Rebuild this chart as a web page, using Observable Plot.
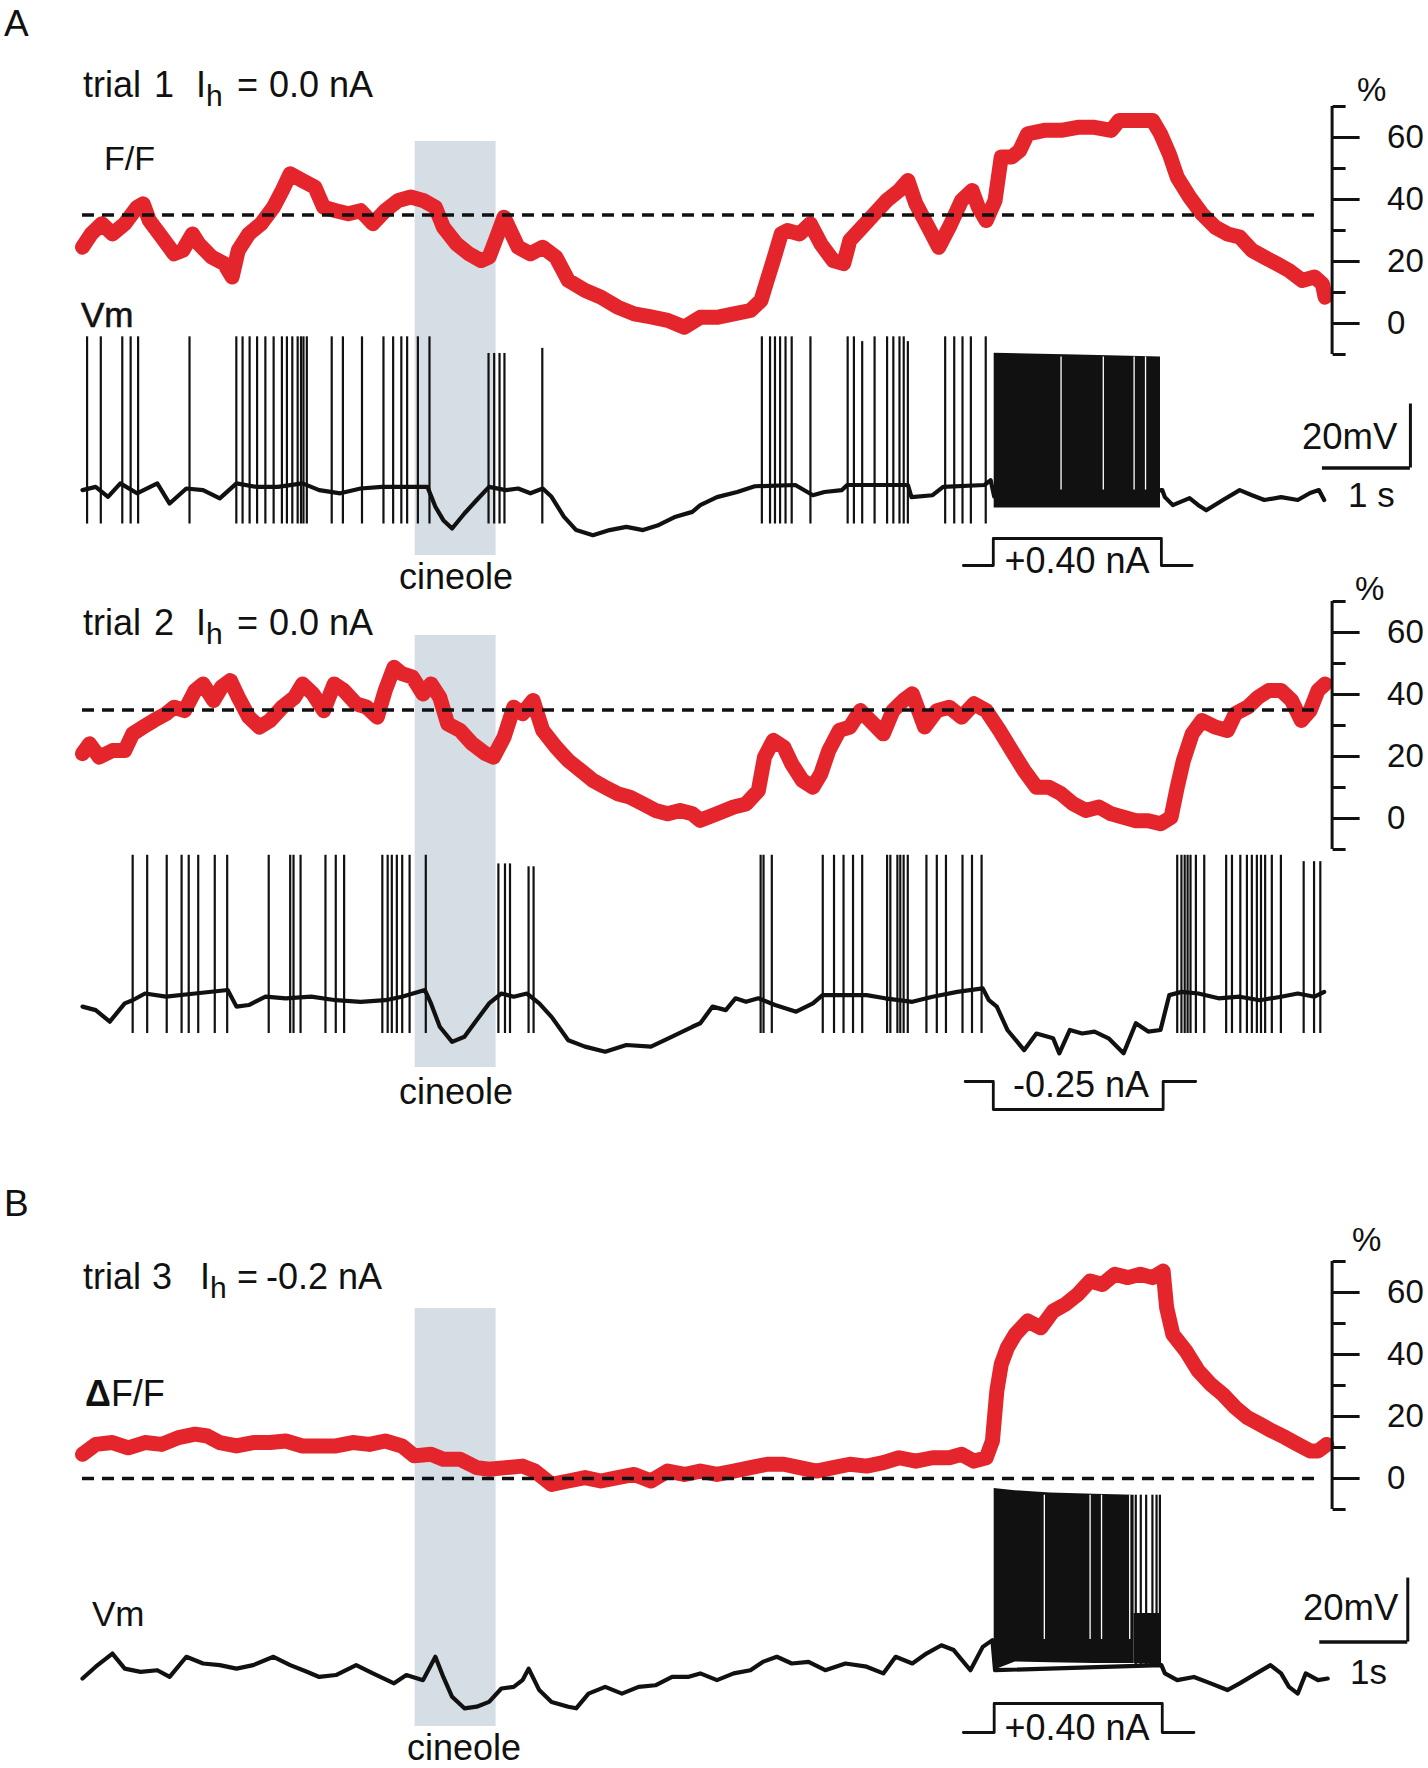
<!DOCTYPE html>
<html><head><meta charset="utf-8">
<script src="https://cdn.jsdelivr.net/npm/d3@7"></script>
<script src="https://cdn.jsdelivr.net/npm/@observablehq/plot@0.6"></script>
<style>
body{margin:0;background:#fff;}
#fig{position:relative;width:1428px;height:1768px;overflow:hidden;background:#fff;}
</style></head><body><div id="fig"></div>
<script>
// ---------- data (time in s, fluorescence in % ΔF/F, Vm in mV, current in nA) ----------
const cineole = [3.78, 4.70];
const dashLevel = [35, 35, 0];
const pctMajor = [0, 20, 40, 60];
const pctMinor = [-10, 10, 30, 50, 70];

const f1 = [[0.00,24.6],[0.10,28.9],[0.22,32.2],[0.34,28.9],[0.48,32.2],[0.62,37.5],[0.69,38.6],[0.76,33.2],[0.90,27.9],[1.04,22.5],[1.14,23.6],[1.25,28.9],[1.32,25.7],[1.47,21.4],[1.61,19.3],[1.70,15.0],[1.77,23.6],[1.89,28.9],[2.03,32.2],[2.17,37.5],[2.27,42.9],[2.36,48.3],[2.50,46.1],[2.64,44.0],[2.74,37.5],[2.88,36.4],[3.02,35.4],[3.16,36.4],[3.30,32.2],[3.44,36.4],[3.59,39.7],[3.73,40.8],[3.87,39.7],[4.01,37.5],[4.10,31.1],[4.25,25.7],[4.39,22.5],[4.53,20.3],[4.62,21.4],[4.72,28.9],[4.79,34.3],[4.86,30.0],[4.95,24.6],[5.09,22.5],[5.23,24.6],[5.38,21.4],[5.52,13.9],[5.71,10.7],[5.89,8.5],[6.08,5.3],[6.27,3.1],[6.46,2.1],[6.65,1.0],[6.84,-1.2],[7.02,2.0],[7.21,2.0],[7.40,3.1],[7.59,4.2],[7.71,7.4],[7.78,13.9],[7.85,20.3],[7.94,28.9],[8.01,30.0],[8.15,28.9],[8.27,32.2],[8.39,25.7],[8.53,20.3],[8.65,19.3],[8.72,26.8],[8.86,31.1],[9.00,35.4],[9.14,39.7],[9.28,42.9],[9.38,46.1],[9.47,38.6],[9.61,31.1],[9.73,24.6],[9.85,31.1],[9.99,39.7],[10.11,42.9],[10.18,37.5],[10.27,33.2],[10.37,39.7],[10.44,53.7],[10.56,53.7],[10.65,55.8],[10.74,61.2],[10.93,62.3],[11.12,62.3],[11.31,63.3],[11.50,63.3],[11.69,62.3],[11.78,65.5],[11.97,65.5],[12.16,65.5],[12.25,61.2],[12.35,54.7],[12.44,47.2],[12.58,40.8],[12.72,35.4],[12.87,31.1],[13.01,28.9],[13.15,27.9],[13.29,23.6],[13.43,21.4],[13.57,19.3],[13.71,17.1],[13.86,13.9],[14.00,15.0],[14.09,12.8],[14.12,8.5]];

const f2 = [[0.00,20.9],[0.08,24.1],[0.19,19.8],[0.34,21.9],[0.48,21.9],[0.57,27.3],[0.69,29.5],[0.81,31.6],[0.95,33.8],[1.04,35.9],[1.16,34.8],[1.28,41.3],[1.37,43.4],[1.49,38.1],[1.58,42.4],[1.68,44.5],[1.77,39.1],[1.89,32.7],[2.01,29.5],[2.13,31.6],[2.27,35.9],[2.41,39.1],[2.50,43.4],[2.62,40.2],[2.74,34.8],[2.86,43.4],[2.97,41.3],[3.11,37.0],[3.23,35.9],[3.35,32.7],[3.44,41.3],[3.54,48.8],[3.63,46.7],[3.75,45.6],[3.87,40.2],[3.96,43.4],[4.06,39.1],[4.15,30.5],[4.29,28.4],[4.43,24.1],[4.58,20.9],[4.67,19.8],[4.79,26.2],[4.90,35.9],[5.00,33.8],[5.12,38.1],[5.23,28.4],[5.38,23.0],[5.52,18.7],[5.66,15.5],[5.80,12.3],[5.94,10.1],[6.08,8.0],[6.22,6.9],[6.37,4.7],[6.51,2.6],[6.65,1.5],[6.79,2.6],[6.93,1.5],[7.02,-0.6],[7.21,1.5],[7.40,3.7],[7.54,4.7],[7.68,9.0],[7.75,19.8],[7.85,25.2],[7.97,23.0],[8.06,17.6],[8.18,12.3],[8.30,10.1],[8.39,14.4],[8.48,21.9],[8.60,28.4],[8.72,29.5],[8.84,34.8],[8.95,31.6],[9.10,27.3],[9.21,34.8],[9.33,38.1],[9.43,40.2],[9.57,29.5],[9.71,34.8],[9.85,35.9],[9.99,32.7],[10.13,37.0],[10.27,34.8],[10.42,28.4],[10.56,21.9],[10.70,15.5],[10.84,10.1],[10.98,10.1],[11.12,8.0],[11.26,4.7],[11.40,2.6],[11.55,3.7],[11.69,1.5],[11.83,0.4],[11.97,-0.7],[12.11,-0.7],[12.25,-1.7],[12.37,0.4],[12.44,10.1],[12.51,18.7],[12.61,27.3],[12.72,31.6],[12.87,29.5],[13.01,28.4],[13.10,33.8],[13.24,35.9],[13.36,39.1],[13.48,41.3],[13.62,41.3],[13.74,38.1],[13.85,31.6],[13.95,34.8],[14.04,41.3],[14.12,43.4]];

const f3 = [[0.00,7.8],[0.15,11.0],[0.34,11.6],[0.52,9.9],[0.71,11.6],[0.90,11.0],[1.09,13.2],[1.28,14.3],[1.42,13.7],[1.56,11.6],[1.75,10.5],[1.94,11.6],[2.13,11.6],[2.31,12.1],[2.50,10.5],[2.69,10.5],[2.88,10.5],[3.07,11.6],[3.26,11.0],[3.44,12.1],[3.63,10.5],[3.77,7.3],[3.96,7.8],[4.10,6.2],[4.29,6.2],[4.48,3.5],[4.62,3.0],[4.81,3.5],[5.00,4.0],[5.14,2.4],[5.33,-1.9],[5.52,-0.8],[5.71,0.3],[5.89,-0.8],[6.08,0.3],[6.27,1.3],[6.46,-0.8],[6.65,2.4],[6.84,1.3],[7.02,2.4],[7.21,1.3],[7.40,2.4],[7.59,3.5],[7.78,4.6],[7.97,4.6],[8.15,3.5],[8.34,2.4],[8.53,3.5],[8.72,4.6],[8.91,4.0],[9.10,5.1],[9.28,6.7],[9.47,5.6],[9.66,6.7],[9.85,6.7],[9.99,7.8],[10.13,5.6],[10.27,6.7],[10.34,12.1],[10.39,28.2],[10.44,36.8],[10.51,42.2],[10.60,46.5],[10.74,50.8],[10.89,48.6],[11.03,54.0],[11.17,56.2],[11.31,59.4],[11.45,63.7],[11.59,62.6],[11.73,65.9],[11.88,64.8],[12.02,65.9],[12.16,64.8],[12.28,66.9],[12.32,55.1],[12.39,46.5],[12.54,41.1],[12.68,34.7],[12.82,30.4],[12.96,27.1],[13.10,22.9],[13.24,19.6],[13.38,17.5],[13.52,15.3],[13.67,13.2],[13.81,11.0],[13.95,8.9],[14.04,8.9],[14.14,11.0]];

// subthreshold membrane potential
const vm1 = [[0.00,-58],[0.15,-57],[0.29,-60.1],[0.43,-55.9],[0.62,-59],[0.85,-55.9],[0.99,-62.2],[1.18,-57.5],[1.37,-58],[1.56,-60.6],[1.75,-55.9],[1.98,-57],[2.22,-57],[2.50,-55.9],[2.69,-58],[2.93,-59],[3.16,-57.5],[3.40,-57],[3.63,-57],[3.92,-57],[4.01,-63.2],[4.10,-67.4],[4.20,-70],[4.34,-65.3],[4.48,-61.1],[4.62,-57],[4.81,-58],[4.95,-57.5],[5.09,-59],[5.23,-57.5],[5.33,-60.1],[5.47,-66.3],[5.61,-70.5],[5.80,-72.1],[5.99,-70.5],[6.18,-69.5],[6.37,-70.5],[6.55,-68.9],[6.74,-66.3],[6.93,-64.8],[7.02,-62.7],[7.21,-60.2],[7.44,-58.6],[7.64,-56.8],[8.10,-56.4],[8.30,-59.6],[8.43,-58.6],[8.63,-58],[8.69,-56.4],[9.38,-56.4],[9.42,-60.2],[9.66,-59.6],[9.78,-57],[10.25,-56.4],[10.32,-54.9],[10.36,-60],[12.27,-58],[12.30,-60.2],[12.39,-62.7],[12.58,-60.5],[12.68,-62.7],[12.77,-64.3],[12.96,-61.1],[13.15,-58],[13.29,-59.6],[13.43,-61.1],[13.62,-60.2],[13.81,-61.1],[13.95,-58.9],[14.05,-58],[14.11,-61.1]];
const vm2 = [[0.00,-59.1],[0.15,-60.2],[0.31,-63.8],[0.48,-58.1],[0.57,-57.1],[0.71,-55],[0.95,-56],[1.28,-55],[1.65,-53.9],[1.75,-59.1],[1.89,-58.6],[2.08,-56],[2.31,-56.5],[2.60,-56],[2.88,-57.1],[3.16,-57.6],[3.44,-57.1],[3.63,-56],[3.89,-53.9],[3.96,-58.1],[4.06,-65.4],[4.20,-70.1],[4.34,-68.5],[4.48,-63.3],[4.62,-58.1],[4.76,-55],[4.90,-56],[5.05,-55],[5.19,-58.1],[5.33,-62.3],[5.52,-69.6],[5.71,-71.6],[5.94,-73.2],[6.18,-71.1],[6.46,-71.6],[6.70,-68.5],[6.93,-65.4],[7.02,-64.3],[7.16,-59.1],[7.31,-60.2],[7.42,-56.5],[7.54,-57.6],[7.68,-56.5],[7.87,-58.6],[8.11,-60.7],[8.30,-58.1],[8.41,-55.5],[8.67,-55.5],[8.91,-55.5],[9.12,-56.5],[9.43,-57.6],[9.66,-56],[9.94,-54.5],[10.23,-53.4],[10.30,-57.1],[10.39,-59.1],[10.51,-66.4],[10.70,-72.7],[10.84,-67.5],[11.03,-69],[11.10,-73.7],[11.22,-66.4],[11.36,-67.5],[11.50,-66.9],[11.66,-69],[11.83,-73.7],[11.97,-64.3],[12.11,-66.9],[12.25,-66.4],[12.35,-55.5],[12.49,-54.5],[12.68,-55],[12.91,-56.5],[13.15,-56],[13.38,-57.1],[13.62,-56],[13.81,-55],[14.00,-56],[14.11,-54.5]];
const vm3 = [[0.00,-62.2],[0.15,-58.5],[0.34,-54.4],[0.48,-59.1],[0.66,-60.1],[0.85,-59.6],[0.99,-61.7],[1.18,-55.4],[1.37,-57.5],[1.56,-58],[1.75,-59.1],[1.94,-58],[2.17,-55.4],[2.36,-58],[2.55,-60.1],[2.69,-61.7],[2.88,-61.1],[3.11,-58],[3.30,-60.6],[3.54,-63.7],[3.68,-61.1],[3.87,-62.7],[4.01,-55.4],[4.10,-61.7],[4.20,-67.9],[4.34,-71.5],[4.48,-71],[4.62,-69.5],[4.76,-65.3],[4.90,-64.8],[5.00,-62.7],[5.07,-59.1],[5.19,-65.8],[5.33,-69.5],[5.52,-71],[5.61,-71.5],[5.75,-66.9],[5.94,-64.8],[6.13,-66.9],[6.32,-64.8],[6.51,-64.3],[6.70,-61.7],[6.88,-61.7],[7.02,-60.6],[7.21,-62.7],[7.40,-60.6],[7.59,-59.6],[7.73,-57],[7.89,-55.4],[8.06,-57.5],[8.25,-57],[8.44,-59.6],[8.67,-57.5],[8.91,-58.5],[9.10,-60.6],[9.24,-55.4],[9.43,-57.5],[9.59,-54.4],[9.76,-51.8],[9.90,-53.3],[10.09,-59.6],[10.23,-52.3],[10.34,-50.2],[10.37,-59.6],[12.26,-58],[12.30,-60.6],[12.44,-62.7],[12.63,-61.7],[12.82,-63.7],[13.01,-65.8],[13.15,-63.7],[13.34,-60.6],[13.50,-58],[13.62,-60.6],[13.71,-64.8],[13.81,-66.9],[13.90,-60.6],[14.04,-62.7],[14.15,-62.2]];

// action potentials: [time, peak mV]; trough (AHP) per trial
const spikes1 = [[0.052,-10.1],[0.208,-10.1],[0.452,-10.1],[0.547,-10.1],[0.632,-10.1],[1.216,-10.1],[1.748,-10.1],[1.819,-10.1],[1.899,-10.1],[1.984,-10.1],[2.078,-10.1],[2.172,-10.1],[2.266,-10.1],[2.323,-10.1],[2.384,-10.1],[2.445,-10.1],[2.483,-10.1],[2.511,-10.1],[2.549,-10.1],[2.832,-10.1],[2.959,-10.1],[3.176,-10.1],[3.420,-10.1],[3.530,-10.1],[3.623,-10.1],[3.689,-10.1],[3.811,-10.1],[3.943,-10.1],[4.614,-15.3],[4.678,-15.3],[4.739,-15.3],[4.795,-15.3],[5.225,-13.7],[7.720,-10.1],[7.813,-10.1],[7.869,-10.1],[7.927,-10.1],[7.989,-10.1],[8.059,-10.1],[8.272,-10.1],[8.695,-10.1],[8.766,-10.1],[8.860,-11.6],[9.001,-10.1],[9.143,-10.1],[9.214,-10.1],[9.284,-10.1],[9.332,-10.1],[9.379,-11.6],[9.803,-10.1],[9.906,-10.1],[10.000,-10.1],[10.095,-10.1],[10.264,-10.1]];
const spikes2 = [[0.570,-11.8],[0.735,-11.8],[0.957,-11.8],[1.126,-11.8],[1.207,-11.8],[1.315,-11.8],[1.503,-11.8],[1.644,-11.8],[2.116,-11.8],[2.360,-11.8],[2.398,-11.8],[2.478,-11.8],[2.761,-11.8],[2.878,-11.8],[2.973,-11.8],[3.407,-11.8],[3.468,-11.8],[3.515,-11.8],[3.572,-11.8],[3.633,-11.8],[3.717,-11.8],[3.901,-11.8],[4.726,-14.5],[4.801,-14.5],[4.858,-14.5],[5.069,-15.4],[5.126,-15.4],[7.706,-11.8],[7.739,-11.8],[7.833,-11.8],[8.412,-11.8],[8.540,-11.8],[8.648,-11.8],[8.756,-11.8],[8.860,-11.8],[9.143,-11.8],[9.180,-11.8],[9.260,-11.8],[9.293,-11.8],[9.331,-11.8],[9.378,-11.8],[9.590,-11.8],[9.708,-11.8],[9.812,-11.8],[10.000,-11.8],[10.108,-11.8],[10.217,-11.8],[12.440,-11.8],[12.488,-11.8],[12.525,-11.8],[12.558,-11.8],[12.591,-11.8],[12.652,-11.8],[12.747,-11.8],[12.996,-11.8],[13.062,-11.8],[13.157,-11.8],[13.232,-11.8],[13.288,-11.8],[13.345,-11.8],[13.392,-11.8],[13.439,-11.8],[13.515,-11.8],[13.618,-11.8],[13.877,-13.8],[13.995,-13.8],[14.066,-13.8]];
const spikes3 = [[11.969,-4.9],[12.026,-4.9],[12.087,-4.9],[12.158,-4.9],[12.205,-4.9],[12.243,-4.9]];
const ahp = [-68.6, -67.5, -58.0];

// high-frequency firing during the current step: [time, lower envelope, upper envelope]
const burst1 = [[10.36,-63.6,-15.2],[11.30,-63.6,-15.8],[12.25,-63.6,-16.4]];
const burst3 = [[10.36,-59.6,-2.8],[10.60,-57.0,-3.5],[11.00,-57.3,-4.2],[11.50,-57.5,-4.6],[11.95,-57.5,-4.9]];
const burst3tail = [[11.95,-57.5,-41.9],[12.26,-58.0,-41.9]];
const gaps1 = [11.12, 11.60, 11.95, 12.08];
const gaps3 = [10.93, 11.45, 11.58, 11.90];

// injected current steps (nA)
const stim1 = [[10.01,0],[10.35,0],[10.35,0.40],[12.26,0.40],[12.26,0],[12.61,0]];
const stim2 = [[10.03,0],[10.35,0],[10.35,-0.25],[12.28,-0.25],[12.28,0],[12.65,0]];
const stim3 = [[10.01,0],[10.36,0],[10.36,0.40],[12.27,0.40],[12.27,0],[12.63,0]];

// scale bars: start time, start mV, 1 s, 20 mV
const bar1 = {t: 14.09, v: -51.1, dt: 1, dv: 20};
const bar3 = {t: 14.06, v: -50.8, dt: 1, dv: 20};

// ---------- layout ----------
const fig = document.getElementById("fig");
const W = 1428, ML = 82, PX = 88, TMAX = 14.2, MR = W - ML - TMAX * PX;
const FONT = '"Liberation Sans", Arial, Helvetica, sans-serif';
const RED = "#e4262c", INK = "#111", SHADE = "#d5dee4";

function place(top, height, opts) {
  const svg = Plot.plot(Object.assign({
    width: W, height, marginLeft: ML, marginRight: MR, marginTop: 0, marginBottom: 0,
    x: {domain: [0, TMAX], axis: null},
    style: {background: "transparent", overflow: "visible", fontFamily: FONT, fontSize: "33px", color: INK}
  }, opts));
  svg.style.position = "absolute"; svg.style.left = "0px"; svg.style.top = top + "px";
  svg.style.maxWidth = "none";
  fig.appendChild(svg);
}
function shade(top, height) {
  place(top, height, {marks: [Plot.rect([cineole], {x1: d => d[0], x2: d => d[1], fill: SHADE})]});
}
function fPanel(top, data, level) {
  place(top, 248, {y: {domain: [-10, 70]}, marks: [
    Plot.line(data, {x: d => d[0], y: d => d[1], stroke: RED, strokeWidth: 15, strokeLinejoin: "round"}),
    Plot.ruleY([level], {x1: 0, x2: 14.02, stroke: INK, strokeWidth: 3.5, strokeDasharray: "12,8"}),
    Plot.ruleX([TMAX], {y1: -10, y2: 70, stroke: INK, strokeWidth: 3}),
    Plot.axisY(pctMajor, {anchor: "right", tickSize: 27, tickPadding: 28, strokeWidth: 3, label: null, fontSize: 33}),
    Plot.axisY(pctMinor, {anchor: "right", tickSize: 13, strokeWidth: 3, label: null, tickFormat: () => ""})
  ]});
}
function vmPanel(top, base, spikes, trough, extra) {
  place(top, 256, {y: {domain: [-80, 0], axis: null}, marks: [
    Plot.line(base, {x: d => d[0], y: d => d[1], stroke: INK, strokeWidth: 4.2, strokeLinejoin: "round"}),
    Plot.ruleX(spikes, {x: d => d[0], y1: trough, y2: d => d[1], stroke: INK, strokeWidth: 2.2}),
    ...extra
  ]});
}
function barMarks(b) {
  return [
    Plot.ruleX([b], {x: d => d.t + d.dt, y1: d => d.v, y2: d => d.v + d.dv, stroke: INK, strokeWidth: 3}),
    Plot.ruleY([b], {y: d => d.v, x1: d => d.t, x2: d => d.t + d.dt, stroke: INK, strokeWidth: 3.4})
  ];
}
function stimPanel(top, height, data, dom) {
  place(top, height, {y: {domain: dom, axis: null}, marks: [
    Plot.line(data, {x: d => d[0], y: d => d[1], stroke: INK, strokeWidth: 2.8})
  ]});
}

// trial 1
shade(141, 414);
fPanel(106, f1, dashLevel[0]);
vmPanel(304.4, vm1, spikes1, ahp[0], [
  Plot.areaY(burst1, {x: d => d[0], y1: d => d[1], y2: d => d[2], fill: INK}),
  Plot.ruleX(gaps1, {x: d => d, y1: -58, y2: -16.4, stroke: "#fff", strokeWidth: 1.3}),
  ...barMarks(bar1)
]);
stimPanel(538, 27, stim1, [0, 0.4]);

// trial 2
shade(635, 432);
fPanel(601, f2, dashLevel[1]);
vmPanel(817.4, vm2, spikes2, ahp[1], []);
stimPanel(1081, 28, stim2, [-0.25, 0]);

// trial 3
shade(1308, 418);
fPanel(1260.5, f3, dashLevel[2]);
vmPanel(1479.4, vm3, spikes3, ahp[2], [
  Plot.areaY(burst3, {x: d => d[0], y1: d => d[1], y2: d => d[2], fill: INK}),
  Plot.areaY(burst3tail, {x: d => d[0], y1: d => d[1], y2: d => d[2], fill: INK}),
  Plot.ruleX(gaps3, {x: d => d, y1: -50, y2: -4.9, stroke: "#fff", strokeWidth: 1.3}),
  ...barMarks(bar3)
]);
stimPanel(1703, 29, stim3, [0, 0.4]);

// ---------- text ----------
const ih = (y, n, nx, I, eq, cx, cur) => `<text y="${y}" font-size="36"><tspan x="83">trial</tspan><tspan x="${nx}">${n}</tspan><tspan x="${I}">I</tspan><tspan font-size="30" dy="9">h</tspan><tspan dy="-9" x="${eq}">=</tspan><tspan x="${cx}">${cur}</tspan></text>`;
const labels = `
<svg xmlns="http://www.w3.org/2000/svg" width="1428" height="1768" style="position:absolute;left:0;top:0;overflow:visible" font-family='${FONT}' fill="${INK}">
<text x="4" y="36" font-size="37">A</text>
${ih(97, "1", 154, 196, 237, 269, "0.0 nA")}
<text x="104" y="170" font-size="34">F/F</text>
<text x="1357" y="101" font-size="33">%</text>
<text x="81" y="327" font-size="35" stroke="${INK}" stroke-width="0.6">Vm</text>
<text x="456" y="589" font-size="36" text-anchor="middle">cineole</text>
<text x="1077" y="573" font-size="36" text-anchor="middle">+0.40 nA</text>
<text x="1302" y="449" font-size="36.5">20mV</text>
<text x="1348" y="507" font-size="35">1 s</text>
${ih(635, "2", 154, 196, 237, 269, "0.0 nA")}
<text x="1355" y="600" font-size="33">%</text>
<text x="456" y="1104" font-size="36" text-anchor="middle">cineole</text>
<text x="1081" y="1097" font-size="36" text-anchor="middle">-0.25 nA</text>
<text x="4" y="1216" font-size="37">B</text>
<text x="1352" y="1251" font-size="33">%</text>
${ih(1289, "3", 152, 200, 237, 266, "-0.2 nA")}
<text x="85" y="1406" font-size="36"><tspan font-weight="bold">Δ</tspan>F/F</text>
<text x="92" y="1626" font-size="35">Vm</text>
<text x="464" y="1760" font-size="36" text-anchor="middle">cineole</text>
<text x="1077" y="1740" font-size="36" text-anchor="middle">+0.40 nA</text>
<text x="1303" y="1620" font-size="36.5">20mV</text>
<text x="1350" y="1684" font-size="35">1s</text>
</svg>`;
fig.insertAdjacentHTML("beforeend", labels);
</script></body></html>
